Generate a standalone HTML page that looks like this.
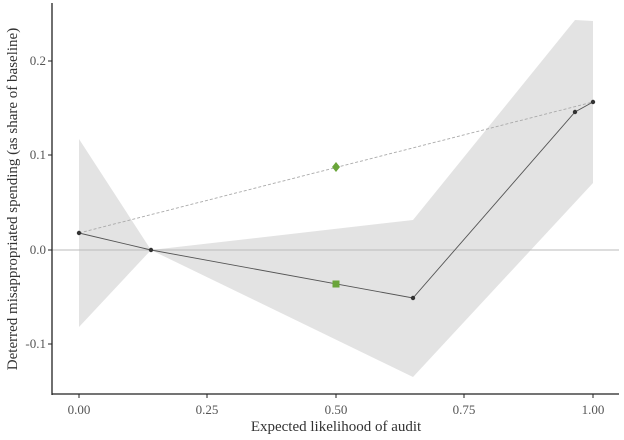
<!DOCTYPE html>
<html><head><style>body{margin:0;background:#fff}</style></head><body>
<svg width="624" height="435" xmlns="http://www.w3.org/2000/svg" font-family="Liberation Serif, serif" fill="#555">
<polygon points="79,139 151,250 413,220 575,20 593,21 593,183 413,377 151,250 79,327" fill="#e3e3e3"/>
<line x1="52" y1="250" x2="619" y2="250" stroke="#bbb" stroke-width="1"/>
<line x1="79" y1="233" x2="593" y2="102" stroke="#aaa" stroke-width="0.9" stroke-dasharray="3,2"/>
<polyline points="79,233 151,250 413,298 575,112 593,102" fill="none" stroke="#555" stroke-width="0.9"/>
<g fill="#333"><circle cx="79" cy="233" r="2.2"/><circle cx="151" cy="250" r="2.2"/><circle cx="413" cy="298" r="2.2"/><circle cx="575" cy="112" r="2.2"/><circle cx="593" cy="102" r="2.2"/></g>
<polygon points="336,162 340,167 336,172 332,167" fill="#6aa53a"/>
<rect x="332.5" y="280.5" width="7" height="7" fill="#6aa53a"/>
<line x1="52" y1="3" x2="52" y2="395" stroke="#222" stroke-width="1.3"/>
<line x1="52" y1="394" x2="619" y2="394" stroke="#222" stroke-width="1.3"/>
<g stroke="#222"><line x1="48" y1="61" x2="52" y2="61"/><line x1="48" y1="155" x2="52" y2="155"/><line x1="48" y1="250" x2="52" y2="250"/><line x1="48" y1="344" x2="52" y2="344"/>
<line x1="79" y1="394" x2="79" y2="398"/><line x1="207" y1="394" x2="207" y2="398"/><line x1="336" y1="394" x2="336" y2="398"/><line x1="464" y1="394" x2="464" y2="398"/><line x1="593" y1="394" x2="593" y2="398"/></g>
<g font-size="13" text-anchor="end"><text x="46" y="65">0.2</text><text x="46" y="159">0.1</text><text x="46" y="254">0.0</text><text x="46" y="348">-0.1</text></g>
<g font-size="13" text-anchor="middle"><text x="79" y="414">0.00</text><text x="207" y="414">0.25</text><text x="336" y="414">0.50</text><text x="464" y="414">0.75</text><text x="593" y="414">1.00</text></g>
<text x="336" y="431" font-size="15" text-anchor="middle" fill="#333">Expected likelihood of audit</text>
<text transform="translate(17,199) rotate(-90)" font-size="15" text-anchor="middle" fill="#333">Deterred misappropriated spending (as share of baseline)</text>
</svg>
</body></html>
